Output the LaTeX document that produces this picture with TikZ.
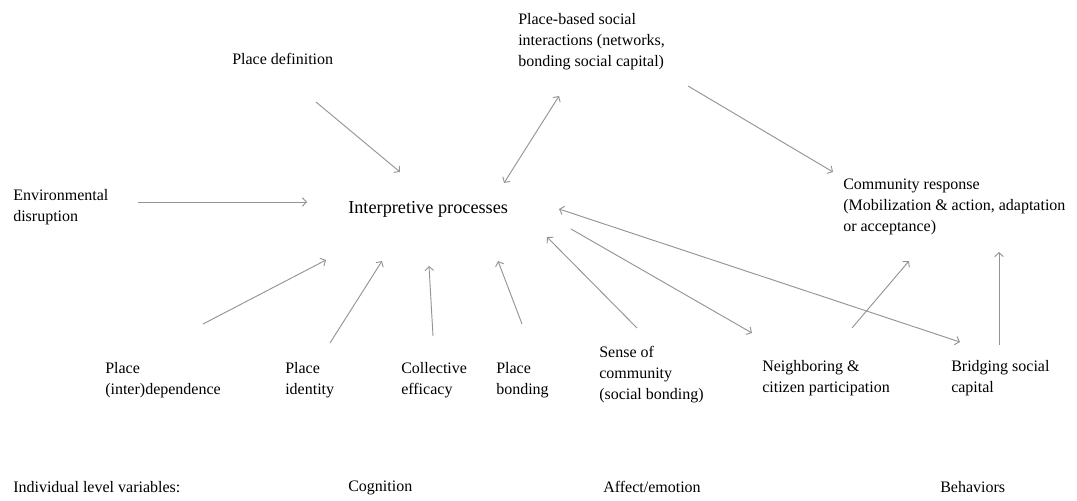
\documentclass[tikz,border=0pt]{standalone}
\usepackage{fontspec}
\setmainfont{Liberation Serif}
\usetikzlibrary{arrows.meta}

\tikzset{
  lbl/.style={anchor=north west, inner sep=0pt, align=left,
              font=\fontsize{12}{15.75}\selectfont},
  hub/.style={anchor=north west, inner sep=0pt,
              font=\fontsize{13.7}{16}\selectfont},
  tip/.tip={Straight Barb[length=3pt,width=6.5pt]},
  link/.style={draw=black!42, line width=0.7pt, -tip},
  twoway/.style={draw=black!42, line width=0.7pt, tip-tip},
}

\begin{document}
\begin{tikzpicture}[x=0.75pt, y=-0.75pt]
\useasboundingbox (0,0) rectangle (1077,500);

% central node
\node[hub] (ip) at (348,201) {Interpretive processes};

% upper and side factors
\node[lbl] (pdef) at (232,53) {Place definition};
\node[lbl] (pbsi) at (518,13) {Place-based social\\interactions (networks,\\bonding social capital)};
\node[lbl] (env) at (13,189) {Environmental\\disruption};
\node[lbl] (comm) at (843,179) {Community response\\(Mobilization \& action, adaptation\\or acceptance)};

% lower factors
\node[lbl] (pid) at (105,362) {Place\\(inter)dependence};
\node[lbl] (pidt) at (285,362) {Place\\identity};
\node[lbl] (coll) at (401,362) {Collective\\efficacy};
\node[lbl] (pbond) at (496,362) {Place\\bonding};
\node[lbl] (soc) at (599,346) {Sense of\\community\\(social bonding)};
\node[lbl] (neigh) at (762,360) {Neighboring \&\\citizen participation};
\node[lbl] (bridge) at (951,360) {Bridging social\\capital};

% level labels
\node[lbl] (lvl) at (13,481) {Individual level variables:};
\node[lbl] (cog) at (348,481) {Cognition};
\node[lbl] (aff) at (603,481) {Affect/emotion};
\node[lbl] (beh) at (940,481) {Behaviors};

% connector end points
\coordinate (pdef-o) at (316,102);
\coordinate (ip-a) at (400,172);
\coordinate (ip-b) at (504,183);
\coordinate (pbsi-i) at (559,96);
\coordinate (pbsi-o) at (688,86);
\coordinate (comm-a) at (833,172);
\coordinate (env-o) at (138,202);
\coordinate (ip-c) at (307,202);
\coordinate (pid-o) at (203,324);
\coordinate (ip-d) at (326,260);
\coordinate (pidt-o) at (330,343);
\coordinate (ip-e) at (382,261);
\coordinate (coll-o) at (433,336);
\coordinate (ip-f) at (429,266);
\coordinate (pbond-o) at (522,324);
\coordinate (ip-g) at (498,261);
\coordinate (soc-o) at (637,328);
\coordinate (ip-h) at (547,237);
\coordinate (ip-i) at (571,229);
\coordinate (neigh-i) at (752,333);
\coordinate (ip-j) at (559,209);
\coordinate (bridge-i) at (960,342);
\coordinate (neigh-o) at (852,328);
\coordinate (comm-b) at (909,261);
\coordinate (bridge-o) at (999,345);
\coordinate (comm-c) at (999,252);

% connectors
\draw[link] (pdef-o) -- (ip-a);
\draw[twoway] (ip-b) -- (pbsi-i);
\draw[link] (pbsi-o) -- (comm-a);
\draw[link] (env-o) -- (ip-c);
\draw[link] (pid-o) -- (ip-d);
\draw[link] (pidt-o) -- (ip-e);
\draw[link] (coll-o) -- (ip-f);
\draw[link] (pbond-o) -- (ip-g);
\draw[link] (soc-o) -- (ip-h);
\draw[link] (ip-i) -- (neigh-i);
\draw[twoway] (ip-j) -- (bridge-i);
\draw[link] (neigh-o) -- (comm-b);
\draw[link] (bridge-o) -- (comm-c);
\end{tikzpicture}
\end{document}
